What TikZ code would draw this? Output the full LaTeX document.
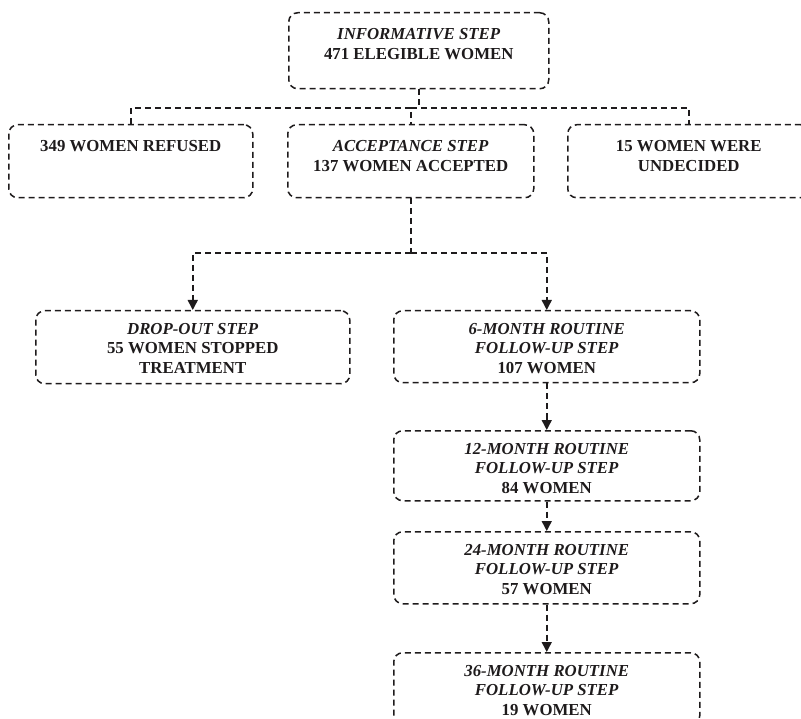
\documentclass[tikz,border=0pt]{standalone}
\usepackage{fontspec}
\setmainfont{Liberation Serif}
\usetikzlibrary{arrows.meta}
\definecolor{ink}{RGB}{30,27,28}
\tikzset{
  box/.style={draw=ink, line width=1.5pt, dash pattern=on 6pt off 4pt,
    rounded corners=9pt, inner sep=0pt, anchor=north west},
  txt/.style={anchor=north, inner sep=0pt, align=center, text=ink,
    font=\fontsize{16.8}{19.5}\selectfont\bfseries},
  conn/.style={draw=ink, line width=1.5pt, dash pattern=on 6pt off 4pt},
  arr/.style={conn, -{Triangle[width=10pt,length=10pt]}}
}
\begin{document}
\begin{tikzpicture}[x=1pt,y=-1pt]
\useasboundingbox (0,0) rectangle (801,719);
\clip (0,0) rectangle (801,719);
% boxes
\node[box, minimum width=260pt, minimum height=76pt] (inf) at (288,12) {};
\node[box, minimum width=244pt, minimum height=73pt] (ref) at (8,124) {};
\node[box, minimum width=246pt, minimum height=73pt] (acc) at (287,124) {};
\node[box, minimum width=242pt, minimum height=73pt] (und) at (567,124) {};
\node[box, minimum width=314pt, minimum height=73pt] (drop) at (35,310) {};
\node[box, minimum width=306pt, minimum height=72pt] (m6) at (393,310) {};
\node[box, minimum width=306pt, minimum height=70pt] (m12) at (393,430) {};
\node[box, minimum width=306pt, minimum height=72pt] (m24) at (393,531) {};
\node[box, minimum width=306pt, minimum height=72pt] (m36) at (393,652) {};
% texts
\node[txt] (tinf) at ([yshift=-16.5pt]inf.north) {\textit{INFORMATIVE STEP}\\471 ELEGIBLE WOMEN};
\node[txt] (tref) at ([yshift=-16.5pt]ref.north) {349 WOMEN REFUSED};
\node[txt] (tacc) at ([yshift=-16.5pt]acc.north) {\textit{ACCEPTANCE STEP}\\137 WOMEN ACCEPTED};
\node[txt] (tund) at ([yshift=-16.5pt]und.north) {15 WOMEN WERE\\UNDECIDED};
\node[txt] (tdrop) at ([yshift=-13pt]drop.north) {\textit{DROP-OUT STEP}\\55 WOMEN STOPPED\\TREATMENT};
\node[txt] (tm6) at ([yshift=-13pt]m6.north) {\textit{6-MONTH ROUTINE}\\\textit{FOLLOW-UP STEP}\\107 WOMEN};
\node[txt] (tm12) at ([yshift=-13pt]m12.north) {\textit{12-MONTH ROUTINE}\\\textit{FOLLOW-UP STEP}\\84 WOMEN};
\node[txt] (tm24) at ([yshift=-13pt]m24.north) {\textit{24-MONTH ROUTINE}\\\textit{FOLLOW-UP STEP}\\57 WOMEN};
\node[txt] (tm36) at ([yshift=-13pt]m36.north) {\textit{36-MONTH ROUTINE}\\\textit{FOLLOW-UP STEP}\\19 WOMEN};
% first tier connectors
\coordinate (j1) at (418,108);
\draw[conn] (inf.south) -- (inf.south |- j1);
\draw[conn] (ref.north) |- (acc.north |- j1) -- (acc.north);
\draw[conn] (acc.north |- j1) -| (und.north);
% second tier connectors
\coordinate (j2) at (410,253);
\draw[conn] (acc.south) -- (acc.south |- j2);
\draw[arr] (acc.south |- j2) -| (drop.north);
\draw[arr] (acc.south |- j2) -| (m6.north);
% follow-up chain
\draw[arr] (m6.south) -- (m12.north);
\draw[arr] (m12.south) -- (m24.north);
\draw[arr] (m24.south) -- (m36.north);
\end{tikzpicture}
\end{document}
